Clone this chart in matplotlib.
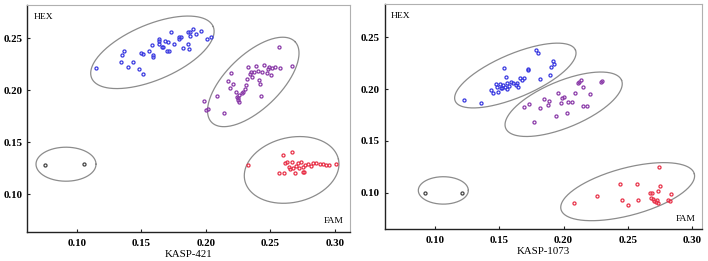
import numpy as np
import matplotlib
matplotlib.use("Agg")
import matplotlib.pyplot as plt

# ---------------- data: KASP-421 ----------------
k421_hex_x = [0.1147, 0.134, 0.135, 0.1365, 0.1395, 0.1439, 0.1485, 0.1495, 0.151, 0.151,
              0.1556, 0.158, 0.159, 0.159, 0.164, 0.164, 0.164, 0.1658, 0.167, 0.168,
              0.1697, 0.171, 0.1717, 0.173, 0.1756, 0.179, 0.179, 0.181, 0.182, 0.186,
              0.1865, 0.187, 0.188, 0.188, 0.190, 0.1926, 0.196, 0.2006, 0.204]
k421_hex_y = [0.2212, 0.2276, 0.234, 0.238, 0.2221, 0.2272, 0.2205, 0.2356, 0.235, 0.2154,
              0.2378, 0.2439, 0.234, 0.2324, 0.247, 0.249, 0.2445, 0.2413, 0.242, 0.247,
              0.2378, 0.246, 0.2375, 0.256, 0.2449, 0.2497, 0.251, 0.2516, 0.241, 0.2558,
              0.2442, 0.2394, 0.2522, 0.256, 0.2593, 0.2542, 0.257, 0.249, 0.251]
k421_het_x = [0.1988, 0.200, 0.2014, 0.209, 0.214, 0.2174, 0.2187, 0.2195, 0.221, 0.223,
              0.224, 0.225, 0.225, 0.2259, 0.226, 0.228, 0.229, 0.230, 0.231, 0.232,
              0.2329, 0.234, 0.235, 0.236, 0.2375, 0.239, 0.240, 0.2414, 0.2419, 0.2427,
              0.2435, 0.245, 0.247, 0.2484, 0.249, 0.2505, 0.2515, 0.2535, 0.257, 0.2575,
              0.2667]
k421_het_y = [0.190, 0.181, 0.1817, 0.1945, 0.1785, 0.209, 0.2019, 0.2164, 0.2061, 0.198,
              0.1939, 0.1907, 0.1923, 0.1891, 0.1955, 0.197, 0.1987, 0.201, 0.205, 0.2106,
              0.2221, 0.2157, 0.218, 0.2125, 0.2176, 0.2234, 0.2189, 0.2099, 0.2061, 0.1946,
              0.218, 0.2241, 0.217, 0.2202, 0.2228, 0.215, 0.221, 0.2228, 0.242, 0.221,
              0.2234]
k421_fam_x = [0.2326, 0.257, 0.260, 0.2605, 0.261, 0.263, 0.264, 0.2655, 0.2664, 0.267,
              0.2677, 0.2687, 0.2695, 0.271, 0.2723, 0.274, 0.275, 0.2755, 0.276, 0.277,
              0.279, 0.2811, 0.283, 0.285, 0.288, 0.291, 0.293, 0.295, 0.3007]
k421_fam_y = [0.1282, 0.1202, 0.1378, 0.1202, 0.1298, 0.1308, 0.1266, 0.1244, 0.141, 0.1314,
              0.125, 0.1202, 0.1276, 0.1298, 0.1256, 0.1314, 0.1218, 0.1266, 0.1212, 0.1282,
              0.1288, 0.1276, 0.1305, 0.1298, 0.1295, 0.1292, 0.1285, 0.1282, 0.1288]
k421_ntc_x = [0.0752, 0.1057]
k421_ntc_y = [0.1285, 0.1290]

# ---------------- data: KASP-1073 ----------------
k1073_hex_x = [0.1228, 0.1357, 0.1435, 0.1455, 0.1473, 0.1486, 0.1494, 0.1504, 0.1512, 0.152,
               0.153, 0.1538, 0.1543, 0.1551, 0.1559, 0.1564, 0.1577, 0.1595, 0.161, 0.1629,
               0.1642, 0.1647, 0.166, 0.168, 0.1693, 0.1724, 0.1727, 0.1784, 0.1802, 0.1815,
               0.1893, 0.190, 0.1918, 0.1926]
k1073_hex_y = [0.1895, 0.1869, 0.1991, 0.1959, 0.2049, 0.2017, 0.1975, 0.2046, 0.2007, 0.2014,
               0.204, 0.2207, 0.2017, 0.212, 0.2056, 0.1998, 0.203, 0.2072, 0.2062, 0.204,
               0.2056, 0.2017, 0.2104, 0.2088, 0.2111, 0.2194, 0.2184, 0.2378, 0.2352, 0.2101,
               0.2136, 0.2217, 0.2271, 0.2242]
k1073_het_x = [0.1693, 0.1732, 0.1771, 0.1817, 0.1849, 0.188, 0.1887, 0.1939, 0.1957, 0.1978,
               0.199, 0.2004, 0.203, 0.2037, 0.2068, 0.2089, 0.2112, 0.212, 0.2138, 0.2151,
               0.2154, 0.218, 0.2206, 0.2288, 0.2301]
k1073_het_y = [0.1824, 0.1853, 0.1686, 0.1814, 0.1901, 0.1847, 0.1885, 0.1740, 0.1966, 0.1869,
               0.1911, 0.1927, 0.1766, 0.1879, 0.1879, 0.1959, 0.2056, 0.2072, 0.2088, 0.2024,
               0.1837, 0.1837, 0.1953, 0.2072, 0.2078]
k1073_fam_x = [0.2081, 0.2262, 0.2438, 0.2451, 0.250, 0.2573, 0.2578, 0.2671, 0.2676, 0.2689,
               0.2697, 0.2702, 0.2715, 0.2728, 0.2733, 0.2736, 0.2741, 0.2746, 0.2813, 0.2826,
               0.2837]
k1073_fam_y = [0.0897, 0.0971, 0.1080, 0.0929, 0.0881, 0.1080, 0.0929, 0.1000, 0.0945, 0.1000,
               0.0935, 0.0919, 0.0913, 0.0929, 0.0903, 0.1016, 0.1251, 0.1064, 0.0929, 0.0919,
               0.0987]
k1073_ntc_x = [0.0925, 0.1210]
k1073_ntc_y = [0.0994, 0.1000]

x_ticks = [0.10, 0.15, 0.20, 0.25, 0.30]
y_ticks = [0.10, 0.15, 0.20, 0.25]
tick_labels_x = ["0.10", "0.15", "0.20", "0.25", "0.30"]
tick_labels_y = ["0.10", "0.15", "0.20", "0.25"]

# ---------------- layout / style ----------------
C_HEX = "#3a3ae0"
C_HET = "#8a3aa8"
C_FAM = "#e8334a"
C_NTC = "#444444"
C_ELL = "#8c8c8c"

fig = plt.figure(figsize=(7.08, 2.61), dpi=100)
axL = fig.add_axes([27 / 708, 29 / 261, 323 / 708, 227 / 261])
axR = fig.add_axes([384.7 / 708, 31.7 / 261, 317.3 / 708, 225.3 / 261])

serif = "Liberation Serif"


def draw_ellipse(ax, cx, cy, a_px, b_px, ang_deg):
    t = np.linspace(0, 2 * np.pi, 300)
    ex = a_px * np.cos(t)
    ey = b_px * np.sin(t)
    th = np.deg2rad(ang_deg)
    rx = ex * np.cos(th) - ey * np.sin(th)
    ry = ex * np.sin(th) + ey * np.cos(th)
    c = ax.transData.transform((cx, cy))
    pts = np.column_stack([c[0] + rx, c[1] + ry])
    d = ax.transData.inverted().transform(pts)
    ax.plot(d[:, 0], d[:, 1], color=C_ELL, lw=0.9, zorder=1)


def style(ax, xlim, ylim, label):
    ax.set_xlim(*xlim)
    ax.set_ylim(*ylim)
    ax.set_xticks(x_ticks)
    ax.set_xticklabels(tick_labels_x)
    ax.set_yticks(y_ticks)
    ax.set_yticklabels(tick_labels_y)
    for lab in ax.get_xticklabels() + ax.get_yticklabels():
        lab.set_fontfamily(serif)
        lab.set_fontweight("bold")
        lab.set_fontsize(7.8)
    ax.tick_params(axis="both", direction="in", length=2.5, width=0.8,
                   color="#222222", pad=3.5)
    ax.tick_params(axis="x", pad=5)
    ax.set_xlabel(label, fontfamily=serif, fontsize=7.8, labelpad=1.5)
    for s in ["left", "bottom"]:
        ax.spines[s].set_color("#222222")
        ax.spines[s].set_linewidth(1.0)
    for s in ["top", "right"]:
        ax.spines[s].set_color("#b0b0b0")
        ax.spines[s].set_linewidth(0.8)
    ax.text(0.02, 0.965, "HEX", transform=ax.transAxes, fontfamily=serif,
            fontsize=6.8, va="top", ha="left")
    ax.text(0.98, 0.03, "FAM", transform=ax.transAxes, fontfamily=serif,
            fontsize=6.8, va="bottom", ha="right")


def scatter(ax, x, y, col):
    ax.plot(x, y, ls="none", marker="o", ms=2.2, mfc="none", mec=col, mew=0.9, zorder=2)


style(axL, (0.0615, 0.3116), (0.0637, 0.282), "KASP-421")
style(axR, (0.0612, 0.3075), (0.0647, 0.282), "KASP-1073")

scatter(axL, k421_hex_x, k421_hex_y, C_HEX)
scatter(axL, k421_het_x, k421_het_y, C_HET)
scatter(axL, k421_fam_x, k421_fam_y, C_FAM)
scatter(axL, k421_ntc_x, k421_ntc_y, C_NTC)

scatter(axR, k1073_hex_x, k1073_hex_y, C_HEX)
scatter(axR, k1073_het_x, k1073_het_y, C_HET)
scatter(axR, k1073_fam_x, k1073_fam_y, C_FAM)
scatter(axR, k1073_ntc_x, k1073_ntc_y, C_NTC)

fig.canvas.draw()
draw_ellipse(axL, 0.1586, 0.2365, 66, 27.7, 23)
draw_ellipse(axL, 0.2367, 0.2080, 58, 27, 44)
draw_ellipse(axL, 0.2664, 0.1234, 48, 32.4, 13)
draw_ellipse(axL, 0.0917, 0.1289, 30, 17, 0)

draw_ellipse(axR, 0.1626, 0.2130, 65.3, 21.7, 23)
draw_ellipse(axR, 0.2001, 0.1853, 62.7, 23.3, 22.5)
draw_ellipse(axR, 0.2498, 0.1010, 69, 23.7, 15)
draw_ellipse(axR, 0.1067, 0.1022, 25, 13.7, 0)

fig.savefig("out.png", dpi=100)
